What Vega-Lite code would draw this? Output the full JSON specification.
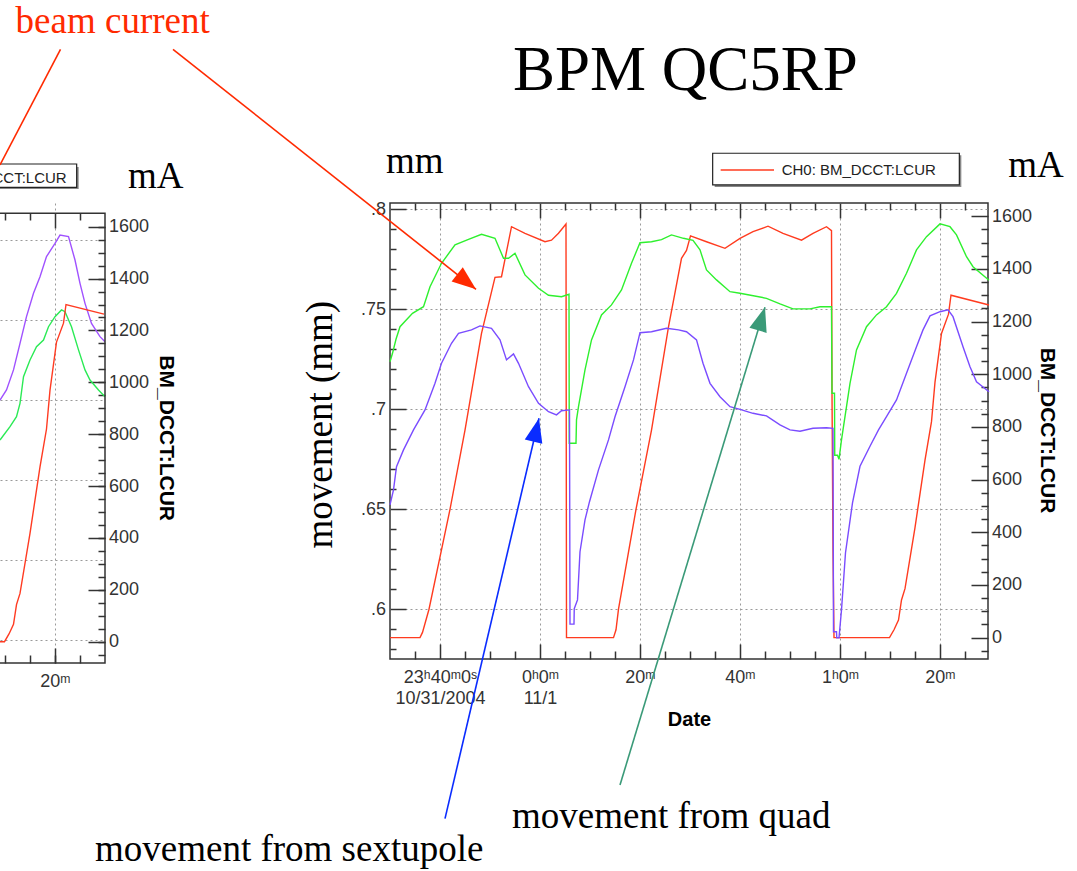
{
  "$schema": "https://vega.github.io/schema/vega-lite/v6.json",
  "autosize": {"type": "none"},
  "padding": {"left": 0, "top": 203, "right": 1077, "bottom": 668},
  "background": "#ffffff",
  "config": {"view": {"stroke": null}},
  "bounds": "flush",
  "spacing": 285,
  "datasets": {
    "current": [
      {"time": "2004-10-31T23:30:00Z", "mA": 0},
      {"time": "2004-10-31T23:36:00Z", "mA": 0},
      {"time": "2004-10-31T23:36:30Z", "mA": 20},
      {"time": "2004-10-31T23:37:48Z", "mA": 108},
      {"time": "2004-10-31T23:42:00Z", "mA": 487},
      {"time": "2004-10-31T23:45:00Z", "mA": 788},
      {"time": "2004-10-31T23:48:18Z", "mA": 1155},
      {"time": "2004-10-31T23:51:00Z", "mA": 1368},
      {"time": "2004-10-31T23:52:18Z", "mA": 1370},
      {"time": "2004-10-31T23:53:18Z", "mA": 1465},
      {"time": "2004-10-31T23:54:18Z", "mA": 1560},
      {"time": "2004-10-31T23:57:00Z", "mA": 1535},
      {"time": "2004-11-01T00:01:00Z", "mA": 1503},
      {"time": "2004-11-01T00:02:18Z", "mA": 1509},
      {"time": "2004-11-01T00:03:42Z", "mA": 1535},
      {"time": "2004-11-01T00:05:12Z", "mA": 1570},
      {"time": "2004-11-01T00:05:18Z", "mA": 0},
      {"time": "2004-11-01T00:14:42Z", "mA": 0},
      {"time": "2004-11-01T00:15:12Z", "mA": 30},
      {"time": "2004-11-01T00:15:42Z", "mA": 108},
      {"time": "2004-11-01T00:19:12Z", "mA": 487},
      {"time": "2004-11-01T00:22:18Z", "mA": 788},
      {"time": "2004-11-01T00:25:42Z", "mA": 1180},
      {"time": "2004-11-01T00:28:18Z", "mA": 1440},
      {"time": "2004-11-01T00:29:18Z", "mA": 1470},
      {"time": "2004-11-01T00:30:06Z", "mA": 1525},
      {"time": "2004-11-01T00:33:18Z", "mA": 1503},
      {"time": "2004-11-01T00:37:00Z", "mA": 1478},
      {"time": "2004-11-01T00:40:00Z", "mA": 1516},
      {"time": "2004-11-01T00:42:36Z", "mA": 1541},
      {"time": "2004-11-01T00:45:36Z", "mA": 1562},
      {"time": "2004-11-01T00:48:36Z", "mA": 1535},
      {"time": "2004-11-01T00:52:18Z", "mA": 1509},
      {"time": "2004-11-01T00:54:36Z", "mA": 1535},
      {"time": "2004-11-01T00:57:18Z", "mA": 1560},
      {"time": "2004-11-01T00:58:18Z", "mA": 1545},
      {"time": "2004-11-01T00:58:24Z", "mA": 930},
      {"time": "2004-11-01T00:58:36Z", "mA": 330},
      {"time": "2004-11-01T00:58:48Z", "mA": 0},
      {"time": "2004-11-01T01:09:54Z", "mA": 0},
      {"time": "2004-11-01T01:10:48Z", "mA": 30},
      {"time": "2004-11-01T01:11:42Z", "mA": 67},
      {"time": "2004-11-01T01:12:18Z", "mA": 143},
      {"time": "2004-11-01T01:13:00Z", "mA": 186},
      {"time": "2004-11-01T01:15:00Z", "mA": 418},
      {"time": "2004-11-01T01:17:00Z", "mA": 674},
      {"time": "2004-11-01T01:18:18Z", "mA": 820},
      {"time": "2004-11-01T01:19:00Z", "mA": 970},
      {"time": "2004-11-01T01:20:18Z", "mA": 1155},
      {"time": "2004-11-01T01:21:42Z", "mA": 1228},
      {"time": "2004-11-01T01:22:12Z", "mA": 1300},
      {"time": "2004-11-01T01:29:48Z", "mA": 1263}
    ],
    "movement": [
      {"time": "2004-10-31T23:30:00Z", "source": "quad", "mm": 0.7238},
      {"time": "2004-10-31T23:30:30Z", "source": "quad", "mm": 0.728},
      {"time": "2004-10-31T23:31:12Z", "source": "quad", "mm": 0.735},
      {"time": "2004-10-31T23:32:00Z", "source": "quad", "mm": 0.7413},
      {"time": "2004-10-31T23:34:30Z", "source": "quad", "mm": 0.748},
      {"time": "2004-10-31T23:36:42Z", "source": "quad", "mm": 0.7513},
      {"time": "2004-10-31T23:38:00Z", "source": "quad", "mm": 0.7613},
      {"time": "2004-10-31T23:40:18Z", "source": "quad", "mm": 0.773},
      {"time": "2004-10-31T23:43:00Z", "source": "quad", "mm": 0.7822},
      {"time": "2004-10-31T23:45:42Z", "source": "quad", "mm": 0.785},
      {"time": "2004-10-31T23:48:18Z", "source": "quad", "mm": 0.7875},
      {"time": "2004-10-31T23:51:00Z", "source": "quad", "mm": 0.7855},
      {"time": "2004-10-31T23:52:42Z", "source": "quad", "mm": 0.7755},
      {"time": "2004-10-31T23:53:42Z", "source": "quad", "mm": 0.7755},
      {"time": "2004-10-31T23:55:00Z", "source": "quad", "mm": 0.778},
      {"time": "2004-10-31T23:57:00Z", "source": "quad", "mm": 0.7672},
      {"time": "2004-10-31T23:59:42Z", "source": "quad", "mm": 0.7605},
      {"time": "2004-11-01T00:01:42Z", "source": "quad", "mm": 0.757},
      {"time": "2004-11-01T00:04:18Z", "source": "quad", "mm": 0.7563},
      {"time": "2004-11-01T00:05:48Z", "source": "quad", "mm": 0.7575},
      {"time": "2004-11-01T00:05:51Z", "source": "quad", "mm": 0.683},
      {"time": "2004-11-01T00:07:12Z", "source": "quad", "mm": 0.683},
      {"time": "2004-11-01T00:07:18Z", "source": "quad", "mm": 0.6947},
      {"time": "2004-11-01T00:07:42Z", "source": "quad", "mm": 0.7013},
      {"time": "2004-11-01T00:09:00Z", "source": "quad", "mm": 0.7197},
      {"time": "2004-11-01T00:10:18Z", "source": "quad", "mm": 0.7347},
      {"time": "2004-11-01T00:12:18Z", "source": "quad", "mm": 0.7472},
      {"time": "2004-11-01T00:14:18Z", "source": "quad", "mm": 0.7522},
      {"time": "2004-11-01T00:16:18Z", "source": "quad", "mm": 0.7597},
      {"time": "2004-11-01T00:18:18Z", "source": "quad", "mm": 0.773},
      {"time": "2004-11-01T00:20:00Z", "source": "quad", "mm": 0.7833},
      {"time": "2004-11-01T00:22:18Z", "source": "quad", "mm": 0.7838},
      {"time": "2004-11-01T00:24:18Z", "source": "quad", "mm": 0.7848},
      {"time": "2004-11-01T00:26:18Z", "source": "quad", "mm": 0.7872},
      {"time": "2004-11-01T00:28:42Z", "source": "quad", "mm": 0.7855},
      {"time": "2004-11-01T00:30:36Z", "source": "quad", "mm": 0.7845},
      {"time": "2004-11-01T00:32:00Z", "source": "quad", "mm": 0.7797},
      {"time": "2004-11-01T00:33:18Z", "source": "quad", "mm": 0.7697},
      {"time": "2004-11-01T00:35:18Z", "source": "quad", "mm": 0.7647},
      {"time": "2004-11-01T00:38:00Z", "source": "quad", "mm": 0.7588},
      {"time": "2004-11-01T00:40:00Z", "source": "quad", "mm": 0.758},
      {"time": "2004-11-01T00:45:18Z", "source": "quad", "mm": 0.7555},
      {"time": "2004-11-01T00:48:00Z", "source": "quad", "mm": 0.7527},
      {"time": "2004-11-01T00:50:36Z", "source": "quad", "mm": 0.7502},
      {"time": "2004-11-01T00:54:00Z", "source": "quad", "mm": 0.7502},
      {"time": "2004-11-01T00:56:00Z", "source": "quad", "mm": 0.7513},
      {"time": "2004-11-01T00:58:18Z", "source": "quad", "mm": 0.7513},
      {"time": "2004-11-01T00:58:24Z", "source": "quad", "mm": 0.708},
      {"time": "2004-11-01T00:58:54Z", "source": "quad", "mm": 0.708},
      {"time": "2004-11-01T00:58:57Z", "source": "quad", "mm": 0.677},
      {"time": "2004-11-01T00:59:30Z", "source": "quad", "mm": 0.677},
      {"time": "2004-11-01T00:59:48Z", "source": "quad", "mm": 0.675},
      {"time": "2004-11-01T01:00:18Z", "source": "quad", "mm": 0.6847},
      {"time": "2004-11-01T01:00:36Z", "source": "quad", "mm": 0.6897},
      {"time": "2004-11-01T01:02:00Z", "source": "quad", "mm": 0.713},
      {"time": "2004-11-01T01:03:18Z", "source": "quad", "mm": 0.7297},
      {"time": "2004-11-01T01:05:18Z", "source": "quad", "mm": 0.7413},
      {"time": "2004-11-01T01:07:18Z", "source": "quad", "mm": 0.7472},
      {"time": "2004-11-01T01:09:18Z", "source": "quad", "mm": 0.7513},
      {"time": "2004-11-01T01:11:18Z", "source": "quad", "mm": 0.758},
      {"time": "2004-11-01T01:13:18Z", "source": "quad", "mm": 0.768},
      {"time": "2004-11-01T01:15:18Z", "source": "quad", "mm": 0.7797},
      {"time": "2004-11-01T01:17:18Z", "source": "quad", "mm": 0.7863},
      {"time": "2004-11-01T01:20:00Z", "source": "quad", "mm": 0.7927},
      {"time": "2004-11-01T01:22:00Z", "source": "quad", "mm": 0.7913},
      {"time": "2004-11-01T01:23:18Z", "source": "quad", "mm": 0.7872},
      {"time": "2004-11-01T01:25:18Z", "source": "quad", "mm": 0.7763},
      {"time": "2004-11-01T01:26:36Z", "source": "quad", "mm": 0.7713},
      {"time": "2004-11-01T01:29:48Z", "source": "quad", "mm": 0.7645},
      {"time": "2004-10-31T23:30:00Z", "source": "sextupole", "mm": 0.6522},
      {"time": "2004-10-31T23:30:42Z", "source": "sextupole", "mm": 0.6597},
      {"time": "2004-10-31T23:31:18Z", "source": "sextupole", "mm": 0.6713},
      {"time": "2004-10-31T23:32:42Z", "source": "sextupole", "mm": 0.6797},
      {"time": "2004-10-31T23:34:42Z", "source": "sextupole", "mm": 0.6897},
      {"time": "2004-10-31T23:37:00Z", "source": "sextupole", "mm": 0.6997},
      {"time": "2004-10-31T23:39:00Z", "source": "sextupole", "mm": 0.713},
      {"time": "2004-10-31T23:40:18Z", "source": "sextupole", "mm": 0.723},
      {"time": "2004-10-31T23:42:18Z", "source": "sextupole", "mm": 0.733},
      {"time": "2004-10-31T23:43:42Z", "source": "sextupole", "mm": 0.738},
      {"time": "2004-10-31T23:46:18Z", "source": "sextupole", "mm": 0.7397},
      {"time": "2004-10-31T23:48:00Z", "source": "sextupole", "mm": 0.7417},
      {"time": "2004-10-31T23:50:18Z", "source": "sextupole", "mm": 0.7405},
      {"time": "2004-10-31T23:52:00Z", "source": "sextupole", "mm": 0.7347},
      {"time": "2004-10-31T23:53:18Z", "source": "sextupole", "mm": 0.7247},
      {"time": "2004-10-31T23:54:42Z", "source": "sextupole", "mm": 0.7277},
      {"time": "2004-10-31T23:55:42Z", "source": "sextupole", "mm": 0.723},
      {"time": "2004-10-31T23:57:42Z", "source": "sextupole", "mm": 0.7113},
      {"time": "2004-10-31T23:59:42Z", "source": "sextupole", "mm": 0.703},
      {"time": "2004-11-01T00:01:42Z", "source": "sextupole", "mm": 0.6988},
      {"time": "2004-11-01T00:03:18Z", "source": "sextupole", "mm": 0.6972},
      {"time": "2004-11-01T00:04:18Z", "source": "sextupole", "mm": 0.6993},
      {"time": "2004-11-01T00:05:54Z", "source": "sextupole", "mm": 0.6997},
      {"time": "2004-11-01T00:06:00Z", "source": "sextupole", "mm": 0.5926},
      {"time": "2004-11-01T00:06:48Z", "source": "sextupole", "mm": 0.5926},
      {"time": "2004-11-01T00:06:51Z", "source": "sextupole", "mm": 0.6003},
      {"time": "2004-11-01T00:07:30Z", "source": "sextupole", "mm": 0.6047},
      {"time": "2004-11-01T00:08:00Z", "source": "sextupole", "mm": 0.6288},
      {"time": "2004-11-01T00:09:00Z", "source": "sextupole", "mm": 0.6447},
      {"time": "2004-11-01T00:09:54Z", "source": "sextupole", "mm": 0.6538},
      {"time": "2004-11-01T00:11:42Z", "source": "sextupole", "mm": 0.6697},
      {"time": "2004-11-01T00:13:42Z", "source": "sextupole", "mm": 0.6847},
      {"time": "2004-11-01T00:15:00Z", "source": "sextupole", "mm": 0.6963},
      {"time": "2004-11-01T00:17:00Z", "source": "sextupole", "mm": 0.7113},
      {"time": "2004-11-01T00:18:42Z", "source": "sextupole", "mm": 0.7247},
      {"time": "2004-11-01T00:20:00Z", "source": "sextupole", "mm": 0.7383},
      {"time": "2004-11-01T00:22:18Z", "source": "sextupole", "mm": 0.7388},
      {"time": "2004-11-01T00:25:18Z", "source": "sextupole", "mm": 0.7405},
      {"time": "2004-11-01T00:27:42Z", "source": "sextupole", "mm": 0.7397},
      {"time": "2004-11-01T00:29:18Z", "source": "sextupole", "mm": 0.7388},
      {"time": "2004-11-01T00:31:18Z", "source": "sextupole", "mm": 0.7347},
      {"time": "2004-11-01T00:32:36Z", "source": "sextupole", "mm": 0.723},
      {"time": "2004-11-01T00:34:00Z", "source": "sextupole", "mm": 0.713},
      {"time": "2004-11-01T00:36:00Z", "source": "sextupole", "mm": 0.7063},
      {"time": "2004-11-01T00:38:00Z", "source": "sextupole", "mm": 0.7013},
      {"time": "2004-11-01T00:40:00Z", "source": "sextupole", "mm": 0.7},
      {"time": "2004-11-01T00:42:36Z", "source": "sextupole", "mm": 0.698},
      {"time": "2004-11-01T00:45:18Z", "source": "sextupole", "mm": 0.6967},
      {"time": "2004-11-01T00:48:00Z", "source": "sextupole", "mm": 0.6922},
      {"time": "2004-11-01T00:50:00Z", "source": "sextupole", "mm": 0.6897},
      {"time": "2004-11-01T00:52:00Z", "source": "sextupole", "mm": 0.689},
      {"time": "2004-11-01T00:54:36Z", "source": "sextupole", "mm": 0.6905},
      {"time": "2004-11-01T00:57:18Z", "source": "sextupole", "mm": 0.6908},
      {"time": "2004-11-01T00:58:36Z", "source": "sextupole", "mm": 0.6905},
      {"time": "2004-11-01T00:58:42Z", "source": "sextupole", "mm": 0.5888},
      {"time": "2004-11-01T00:59:18Z", "source": "sextupole", "mm": 0.5888},
      {"time": "2004-11-01T00:59:21Z", "source": "sextupole", "mm": 0.5858},
      {"time": "2004-11-01T00:59:48Z", "source": "sextupole", "mm": 0.5858},
      {"time": "2004-11-01T01:00:18Z", "source": "sextupole", "mm": 0.5997},
      {"time": "2004-11-01T01:01:06Z", "source": "sextupole", "mm": 0.6283},
      {"time": "2004-11-01T01:02:30Z", "source": "sextupole", "mm": 0.6532},
      {"time": "2004-11-01T01:04:00Z", "source": "sextupole", "mm": 0.6715},
      {"time": "2004-11-01T01:06:00Z", "source": "sextupole", "mm": 0.6815},
      {"time": "2004-11-01T01:07:42Z", "source": "sextupole", "mm": 0.6897},
      {"time": "2004-11-01T01:09:18Z", "source": "sextupole", "mm": 0.6963},
      {"time": "2004-11-01T01:11:18Z", "source": "sextupole", "mm": 0.7047},
      {"time": "2004-11-01T01:13:18Z", "source": "sextupole", "mm": 0.718},
      {"time": "2004-11-01T01:15:18Z", "source": "sextupole", "mm": 0.7313},
      {"time": "2004-11-01T01:16:36Z", "source": "sextupole", "mm": 0.7397},
      {"time": "2004-11-01T01:18:00Z", "source": "sextupole", "mm": 0.7467},
      {"time": "2004-11-01T01:20:00Z", "source": "sextupole", "mm": 0.7488},
      {"time": "2004-11-01T01:21:36Z", "source": "sextupole", "mm": 0.7497},
      {"time": "2004-11-01T01:22:36Z", "source": "sextupole", "mm": 0.7463},
      {"time": "2004-11-01T01:24:36Z", "source": "sextupole", "mm": 0.7313},
      {"time": "2004-11-01T01:26:00Z", "source": "sextupole", "mm": 0.7213},
      {"time": "2004-11-01T01:27:18Z", "source": "sextupole", "mm": 0.7138},
      {"time": "2004-11-01T01:29:48Z", "source": "sextupole", "mm": 0.7088}
    ],
    "movementLeft": [
      {"time": "2004-11-01T01:09:00Z", "source": "quad", "mm": 0.725},
      {"time": "2004-11-01T01:11:00Z", "source": "quad", "mm": 0.7333},
      {"time": "2004-11-01T01:12:18Z", "source": "quad", "mm": 0.7396},
      {"time": "2004-11-01T01:13:00Z", "source": "quad", "mm": 0.7479},
      {"time": "2004-11-01T01:13:42Z", "source": "quad", "mm": 0.7646},
      {"time": "2004-11-01T01:15:00Z", "source": "quad", "mm": 0.775},
      {"time": "2004-11-01T01:16:18Z", "source": "quad", "mm": 0.7833},
      {"time": "2004-11-01T01:17:42Z", "source": "quad", "mm": 0.7875},
      {"time": "2004-11-01T01:18:42Z", "source": "quad", "mm": 0.7958},
      {"time": "2004-11-01T01:20:00Z", "source": "quad", "mm": 0.8021},
      {"time": "2004-11-01T01:21:18Z", "source": "quad", "mm": 0.8063},
      {"time": "2004-11-01T01:22:00Z", "source": "quad", "mm": 0.8052},
      {"time": "2004-11-01T01:23:18Z", "source": "quad", "mm": 0.7958},
      {"time": "2004-11-01T01:24:42Z", "source": "quad", "mm": 0.7813},
      {"time": "2004-11-01T01:26:00Z", "source": "quad", "mm": 0.7688},
      {"time": "2004-11-01T01:27:00Z", "source": "quad", "mm": 0.7625},
      {"time": "2004-11-01T01:28:42Z", "source": "quad", "mm": 0.7563},
      {"time": "2004-11-01T01:30:00Z", "source": "quad", "mm": 0.7521},
      {"time": "2004-11-01T01:09:00Z", "source": "sextupole", "mm": 0.75},
      {"time": "2004-11-01T01:10:18Z", "source": "sextupole", "mm": 0.7563},
      {"time": "2004-11-01T01:11:42Z", "source": "sextupole", "mm": 0.7688},
      {"time": "2004-11-01T01:13:00Z", "source": "sextupole", "mm": 0.7854},
      {"time": "2004-11-01T01:14:18Z", "source": "sextupole", "mm": 0.8021},
      {"time": "2004-11-01T01:15:42Z", "source": "sextupole", "mm": 0.8167},
      {"time": "2004-11-01T01:17:00Z", "source": "sextupole", "mm": 0.8271},
      {"time": "2004-11-01T01:18:18Z", "source": "sextupole", "mm": 0.8396},
      {"time": "2004-11-01T01:20:00Z", "source": "sextupole", "mm": 0.8479},
      {"time": "2004-11-01T01:21:00Z", "source": "sextupole", "mm": 0.8531},
      {"time": "2004-11-01T01:22:42Z", "source": "sextupole", "mm": 0.8521},
      {"time": "2004-11-01T01:24:00Z", "source": "sextupole", "mm": 0.8375},
      {"time": "2004-11-01T01:25:00Z", "source": "sextupole", "mm": 0.8229},
      {"time": "2004-11-01T01:26:00Z", "source": "sextupole", "mm": 0.8104},
      {"time": "2004-11-01T01:27:18Z", "source": "sextupole", "mm": 0.7979},
      {"time": "2004-11-01T01:29:00Z", "source": "sextupole", "mm": 0.7896},
      {"time": "2004-11-01T01:30:00Z", "source": "sextupole", "mm": 0.7864}
    ]
  },
  "hconcat": [
    {
      "width": 105,
      "height": 460,
      "resolve": {"scale": {"x": "independent", "y": "independent", "color": "independent"}},
      "layer": [
        {
          "data": {"name": "movementLeft"},
          "mark": {"type": "line", "strokeWidth": 1.4, "clip": true},
          "encoding": {
            "x": {"field": "time", "type": "temporal",
              "scale": {"type": "utc", "domain": [{"year": 2004, "month": 11, "date": 1, "hours": 1, "minutes": 9, "utc": true}, {"year": 2004, "month": 11, "date": 1, "hours": 1, "minutes": 30, "utc": true}], "nice": false},
              "axis": {"orient": "bottom", "values": [{"year": 2004, "month": 11, "date": 1, "hours": 1, "minutes": 20, "utc": true}], "tickSize": -15, "tickWidth": 1.5, "tickColor": "#333333", "labels": false, "domain": false, "grid": false, "title": null}},
            "y": {"field": "mm", "type": "quantitative",
              "scale": {"domain": [0.585625, 0.873125], "nice": false, "zero": false},
              "axis": {"orient": "left", "values": [0.6, 0.65, 0.7, 0.75, 0.8, 0.85], "labels": false, "ticks": false, "domain": false, "grid": true, "gridColor": "#9a9a9a", "gridDash": [2, 3], "title": null}},
            "color": {"field": "source", "type": "nominal", "scale": {"domain": ["quad", "sextupole"], "range": ["#2bea55", "#a052ff"]}, "legend": null}
          }
        },
        {
          "data": {"name": "current"},
          "mark": {"type": "line", "color": "#ff3b22", "strokeWidth": 1.4, "clip": true},
          "encoding": {
            "x": {"field": "time", "type": "temporal",
              "scale": {"type": "utc", "domain": [{"year": 2004, "month": 11, "date": 1, "hours": 1, "minutes": 9, "utc": true}, {"year": 2004, "month": 11, "date": 1, "hours": 1, "minutes": 30, "utc": true}], "nice": false},
              "axis": {"orient": "bottom", "values": [{"year": 2004, "month": 11, "date": 1, "hours": 1, "minutes": 20, "utc": true}], "ticks": false, "domain": false, "grid": true, "gridColor": "#9a9a9a", "gridDash": [2, 3], "labelExpr": "utcminutes(datum.value) + 'ᵐ'", "labelFont": "Liberation Sans, Arial, sans-serif", "labelFontSize": 18, "labelColor": "#333333", "labelPadding": 23.7, "labelBaseline": "alphabetic", "labelFlush": false, "labelOverlap": false, "labelBound": false, "title": null}},
            "y": {"field": "mA", "type": "quantitative",
              "scale": {"domain": [-82.1, 1691.4], "nice": false, "zero": false},
              "axis": {"orient": "right", "values": [0, 200, 400, 600, 800, 1000, 1200, 1400, 1600], "format": "d", "ticks": false, "domain": false, "grid": false, "labelFont": "Liberation Sans, Arial, sans-serif", "labelFontSize": 18, "labelColor": "#333333", "labelPadding": 3.5, "labelAlign": "left", "labelBaseline": "middle", "labelOverlap": false, "labelBound": false, "labelFlush": false, "title": "BM_DCCT:LCUR", "titleFont": "Liberation Sans, Arial, sans-serif", "titleFontSize": 21, "titleFontWeight": "bold", "titleColor": "#000000", "titleAngle": 90, "titleX": 60, "titleY": 234.7, "titleAlign": "center", "titleBaseline": "middle"}}
          }
        },
        {
          "data": {"values": [{"time": "2004-11-01T01:08:00Z", "time2": "2004-11-01T01:30:00Z", "mA": 1651.7, "mA2": -82.1}]},
          "mark": {"type": "rect", "filled": false, "color": "#333333", "strokeWidth": 1.5},
          "encoding": {
            "x": {"field": "time", "type": "temporal",
              "scale": {"type": "utc", "domain": [{"year": 2004, "month": 11, "date": 1, "hours": 1, "minutes": 9, "utc": true}, {"year": 2004, "month": 11, "date": 1, "hours": 1, "minutes": 30, "utc": true}], "nice": false},
              "axis": {"orient": "bottom", "values": [{"year": 2004, "month": 11, "date": 1, "hours": 1, "minutes": 10, "utc": true}, {"year": 2004, "month": 11, "date": 1, "hours": 1, "minutes": 15, "utc": true}, {"year": 2004, "month": 11, "date": 1, "hours": 1, "minutes": 20, "utc": true}, {"year": 2004, "month": 11, "date": 1, "hours": 1, "minutes": 25, "utc": true}], "tickSize": -8, "tickWidth": 1.5, "tickColor": "#333333", "labels": false, "domain": false, "grid": false, "title": null}},
            "x2": {"field": "time2"},
            "y": {"field": "mA", "type": "quantitative",
              "scale": {"domain": [-82.1, 1691.4], "nice": false, "zero": false},
              "axis": {"orient": "right", "values": [0, 200, 400, 600, 800, 1000, 1200, 1400, 1600], "tickSize": -17, "tickWidth": 1.5, "tickColor": "#333333", "labels": false, "domain": false, "grid": false, "title": null}},
            "y2": {"field": "mA2"}
          }
        },
        {
          "data": {"values": [{"time": "2004-11-01T00:35:24Z", "time2": "2004-11-01T01:24:44Z", "mA": 1830.2, "mA2": 1745.4}]},
          "mark": {"type": "rect", "color": "#888888"},
          "encoding": {
            "x": {"field": "time", "type": "temporal",
              "scale": {"type": "utc", "domain": [{"year": 2004, "month": 11, "date": 1, "hours": 1, "minutes": 9, "utc": true}, {"year": 2004, "month": 11, "date": 1, "hours": 1, "minutes": 30, "utc": true}], "nice": false},
              "axis": {"orient": "top", "offset": -10, "values": [{"year": 2004, "month": 11, "date": 1, "hours": 1, "minutes": 20, "utc": true}], "tickSize": -15, "tickWidth": 1.5, "tickColor": "#333333", "labels": false, "domain": false, "grid": false, "title": null}},
            "x2": {"field": "time2"},
            "y": {"field": "mA", "type": "quantitative",
              "scale": {"domain": [-82.1, 1691.4], "nice": false, "zero": false},
              "axis": {"orient": "right", "values": [-50, 0, 50, 100, 150, 200, 250, 300, 350, 400, 450, 500, 550, 600, 650, 700, 750, 800, 850, 900, 950, 1000, 1050, 1100, 1150, 1200, 1250, 1300, 1350, 1400, 1450, 1500, 1550, 1600], "tickSize": -7, "tickWidth": 1.5, "tickColor": "#333333", "labels": false, "domain": false, "grid": false, "title": null}},
            "y2": {"field": "mA2"}
          }
        },
        {
          "data": {"values": [{"time": "2004-11-01T00:35:00Z", "time2": "2004-11-01T01:24:20Z", "mA": 1841.7, "mA2": 1752}]},
          "mark": {"type": "rect", "fill": "#ffffff", "stroke": "#222222", "strokeWidth": 1.2},
          "encoding": {
            "x": {"field": "time", "type": "temporal",
              "scale": {"type": "utc", "domain": [{"year": 2004, "month": 11, "date": 1, "hours": 1, "minutes": 9, "utc": true}, {"year": 2004, "month": 11, "date": 1, "hours": 1, "minutes": 30, "utc": true}], "nice": false},
              "axis": {"orient": "top", "offset": -10, "values": [{"year": 2004, "month": 11, "date": 1, "hours": 1, "minutes": 10, "utc": true}, {"year": 2004, "month": 11, "date": 1, "hours": 1, "minutes": 15, "utc": true}, {"year": 2004, "month": 11, "date": 1, "hours": 1, "minutes": 25, "utc": true}], "tickSize": -7, "tickWidth": 1.5, "tickColor": "#333333", "labels": false, "domain": false, "grid": false, "title": null}},
            "x2": {"field": "time2"},
            "y": {"field": "mA", "type": "quantitative", "scale": {"domain": [-82.1, 1691.4], "nice": false, "zero": false}, "axis": null},
            "y2": {"field": "mA2"}
          }
        },
        {
          "data": {"values": [{"time": "2004-11-01T01:22:20Z", "mA": 1767.4, "label": "CH0: BM_DCCT:LCUR"}]},
          "mark": {"type": "text", "font": "Liberation Sans, Arial, sans-serif", "fontSize": 15, "color": "#222222", "align": "right", "baseline": "alphabetic"},
          "encoding": {
            "x": {"field": "time", "type": "temporal", "scale": {"type": "utc", "domain": [{"year": 2004, "month": 11, "date": 1, "hours": 1, "minutes": 9, "utc": true}, {"year": 2004, "month": 11, "date": 1, "hours": 1, "minutes": 30, "utc": true}], "nice": false}, "axis": null},
            "y": {"field": "mA", "type": "quantitative", "scale": {"domain": [-82.1, 1691.4], "nice": false, "zero": false}, "axis": null},
            "text": {"field": "label", "type": "nominal"}
          }
        },
        {
          "data": {"values": [{"time": "2004-11-01T01:34:36Z", "mA": 1749.2, "label": "mA"}]},
          "mark": {"type": "text", "font": "Liberation Serif, Times New Roman, serif", "fontSize": 37, "color": "#000000", "align": "left", "baseline": "alphabetic"},
          "encoding": {
            "x": {"field": "time", "type": "temporal", "scale": {"type": "utc", "domain": [{"year": 2004, "month": 11, "date": 1, "hours": 1, "minutes": 9, "utc": true}, {"year": 2004, "month": 11, "date": 1, "hours": 1, "minutes": 30, "utc": true}], "nice": false}, "axis": null},
            "y": {"field": "mA", "type": "quantitative", "scale": {"domain": [-82.1, 1691.4], "nice": false, "zero": false}, "axis": null},
            "text": {"field": "label", "type": "nominal"}
          }
        }
      ]
    },
    {
      "width": 598,
      "height": 456,
      "view": {"stroke": "#333333", "strokeWidth": 1.5},
      "resolve": {"scale": {"x": "independent", "y": "independent", "color": "independent"}},
      "layer": [
        {
          "data": {"name": "current"},
          "mark": {"type": "line", "color": "#ff3b1f", "strokeWidth": 1.4},
          "encoding": {
            "x": {"field": "time", "type": "temporal",
              "scale": {"type": "utc", "domain": [{"year": 2004, "month": 10, "date": 31, "hours": 23, "minutes": 30, "utc": true}, {"year": 2004, "month": 11, "date": 1, "hours": 1, "minutes": 29, "seconds": 36, "utc": true}], "nice": false},
              "axis": {"orient": "bottom", "values": [{"year": 2004, "month": 10, "date": 31, "hours": 23, "minutes": 40, "utc": true}, {"year": 2004, "month": 11, "date": 1, "hours": 0, "minutes": 0, "utc": true}, {"year": 2004, "month": 11, "date": 1, "hours": 0, "minutes": 20, "utc": true}, {"year": 2004, "month": 11, "date": 1, "hours": 0, "minutes": 40, "utc": true}, {"year": 2004, "month": 11, "date": 1, "hours": 1, "minutes": 0, "utc": true}, {"year": 2004, "month": 11, "date": 1, "hours": 1, "minutes": 20, "utc": true}],
                "ticks": false, "domain": false, "grid": true, "gridColor": "#9a9a9a", "gridDash": [2, 3], "gridWidth": 1,
                "labelExpr": "utchours(datum.value) == 23 ? [utchours(datum.value) + 'ʰ' + utcminutes(datum.value) + 'ᵐ0ˢ', (utcmonth(datum.value) + 1) + '/' + utcdate(datum.value) + '/' + utcyear(datum.value)] : utcminutes(datum.value) == 0 ? (utchours(datum.value) == 0 ? ['0ʰ0ᵐ', (utcmonth(datum.value) + 1) + '/' + utcdate(datum.value)] : utchours(datum.value) + 'ʰ0ᵐ') : utcminutes(datum.value) + 'ᵐ'",
                "labelFont": "Liberation Sans, Arial, sans-serif", "labelFontSize": 18, "labelColor": "#333333", "labelPadding": 23.7, "labelBaseline": "alphabetic", "labelLineHeight": 20.6, "labelAlign": "center", "labelOverlap": false, "labelFlush": false, "labelBound": false,
                "title": "Date", "titleFont": "Liberation Sans, Arial, sans-serif", "titleFontSize": 20, "titleFontWeight": "bold", "titleColor": "#000000", "titleX": 299, "titleY": 66, "titleAlign": "center", "titleBaseline": "alphabetic", "titleAngle": 0}},
            "y": {"field": "mA", "type": "quantitative",
              "scale": {"domain": [-81, 1650], "nice": false, "zero": false},
              "axis": {"orient": "right", "values": [0, 200, 400, 600, 800, 1000, 1200, 1400, 1600], "format": "d", "ticks": false, "domain": false, "grid": false, "labelFont": "Liberation Sans, Arial, sans-serif", "labelFontSize": 18, "labelColor": "#333333", "labelPadding": 3.5, "labelAlign": "left", "labelBaseline": "middle", "labelOverlap": false, "labelBound": false, "labelFlush": false, "title": "BM_DCCT:LCUR", "titleFont": "Liberation Sans, Arial, sans-serif", "titleFontSize": 21, "titleFontWeight": "bold", "titleColor": "#000000", "titleAngle": 90, "titleX": 58.7, "titleY": 227, "titleAlign": "center", "titleBaseline": "middle"}}
          }
        },
        {
          "data": {"name": "movement"},
          "mark": {"type": "line", "strokeWidth": 1.4},
          "encoding": {
            "x": {"field": "time", "type": "temporal",
              "scale": {"type": "utc", "domain": [{"year": 2004, "month": 10, "date": 31, "hours": 23, "minutes": 30, "utc": true}, {"year": 2004, "month": 11, "date": 1, "hours": 1, "minutes": 29, "seconds": 36, "utc": true}], "nice": false},
              "axis": {"orient": "bottom", "values": [{"year": 2004, "month": 10, "date": 31, "hours": 23, "minutes": 40, "utc": true}, {"year": 2004, "month": 11, "date": 1, "hours": 0, "minutes": 0, "utc": true}, {"year": 2004, "month": 11, "date": 1, "hours": 0, "minutes": 20, "utc": true}, {"year": 2004, "month": 11, "date": 1, "hours": 0, "minutes": 40, "utc": true}, {"year": 2004, "month": 11, "date": 1, "hours": 1, "minutes": 0, "utc": true}, {"year": 2004, "month": 11, "date": 1, "hours": 1, "minutes": 20, "utc": true}], "tickSize": -15, "tickWidth": 1.5, "tickColor": "#333333", "labels": false, "domain": false, "grid": false, "title": null}},
            "y": {"field": "mm", "type": "quantitative",
              "scale": {"domain": [0.57515, 0.80315], "nice": false, "zero": false},
              "axis": {"orient": "left", "values": [0.6, 0.65, 0.7, 0.75, 0.8], "ticks": false, "domain": false, "grid": true, "gridColor": "#9a9a9a", "gridDash": [2, 3], "gridWidth": 1, "labelExpr": "replace(format(datum.value, '.2~f'), '0.', '.')", "labelFont": "Liberation Sans, Arial, sans-serif", "labelFontSize": 18, "labelColor": "#333333", "labelPadding": 4.5, "labelOverlap": false, "labelBound": false, "labelFlush": false, "title": "movement (mm)", "titleFont": "Liberation Serif, Times New Roman, serif", "titleFontSize": 37, "titleFontWeight": "normal", "titleColor": "#000000", "titleAngle": -90, "titleX": -69.5, "titleY": 221.2, "titleAlign": "center", "titleBaseline": "middle"}},
            "color": {"field": "source", "type": "nominal", "scale": {"domain": ["quad", "sextupole"], "range": ["#2ef02e", "#7a4cff"]}, "legend": null}
          }
        },
        {
          "data": {"values": [
            {"arrow": "beam current", "time": "2004-10-31T22:46:36Z", "mm": 0.88, "time2": "2004-10-31T23:47:12Z", "mm2": 0.76},
            {"arrow": "beam current", "time": "2004-10-31T22:24:06Z", "mm": 0.88, "time2": "2004-10-31T22:12:00Z", "mm2": 0.82215},
            {"arrow": "sextupole", "time": "2004-10-31T23:41:00Z", "mm": 0.49535, "time2": "2004-10-31T23:59:48Z", "mm2": 0.6955},
            {"arrow": "quad", "time": "2004-11-01T00:16:00Z", "mm": 0.51215, "time2": "2004-11-01T00:45:00Z", "mm2": 0.751}
          ]},
          "mark": {"type": "rule", "strokeWidth": 1.6},
          "encoding": {
            "x": {"field": "time", "type": "temporal",
              "scale": {"type": "utc", "domain": [{"year": 2004, "month": 10, "date": 31, "hours": 23, "minutes": 30, "utc": true}, {"year": 2004, "month": 11, "date": 1, "hours": 1, "minutes": 29, "seconds": 36, "utc": true}], "nice": false},
              "axis": {"orient": "bottom", "values": [{"year": 2004, "month": 10, "date": 31, "hours": 23, "minutes": 35, "utc": true}, {"year": 2004, "month": 10, "date": 31, "hours": 23, "minutes": 45, "utc": true}, {"year": 2004, "month": 10, "date": 31, "hours": 23, "minutes": 50, "utc": true}, {"year": 2004, "month": 10, "date": 31, "hours": 23, "minutes": 55, "utc": true}, {"year": 2004, "month": 11, "date": 1, "hours": 0, "minutes": 5, "utc": true}, {"year": 2004, "month": 11, "date": 1, "hours": 0, "minutes": 10, "utc": true}, {"year": 2004, "month": 11, "date": 1, "hours": 0, "minutes": 15, "utc": true}, {"year": 2004, "month": 11, "date": 1, "hours": 0, "minutes": 25, "utc": true}, {"year": 2004, "month": 11, "date": 1, "hours": 0, "minutes": 30, "utc": true}, {"year": 2004, "month": 11, "date": 1, "hours": 0, "minutes": 35, "utc": true}, {"year": 2004, "month": 11, "date": 1, "hours": 0, "minutes": 45, "utc": true}, {"year": 2004, "month": 11, "date": 1, "hours": 0, "minutes": 50, "utc": true}, {"year": 2004, "month": 11, "date": 1, "hours": 0, "minutes": 55, "utc": true}, {"year": 2004, "month": 11, "date": 1, "hours": 1, "minutes": 5, "utc": true}, {"year": 2004, "month": 11, "date": 1, "hours": 1, "minutes": 10, "utc": true}, {"year": 2004, "month": 11, "date": 1, "hours": 1, "minutes": 15, "utc": true}, {"year": 2004, "month": 11, "date": 1, "hours": 1, "minutes": 25, "utc": true}], "tickSize": -8, "tickWidth": 1.5, "tickColor": "#333333", "labels": false, "domain": false, "grid": false, "title": null}},
            "x2": {"field": "time2"},
            "y": {"field": "mm", "type": "quantitative",
              "scale": {"domain": [0.57515, 0.80315], "nice": false, "zero": false},
              "axis": {"orient": "left", "values": [0.6, 0.65, 0.7, 0.75, 0.8], "tickSize": -16, "tickWidth": 1.5, "tickColor": "#333333", "labels": false, "domain": false, "grid": false, "title": null}},
            "y2": {"field": "mm2"},
            "color": {"field": "arrow", "type": "nominal", "scale": {"domain": ["beam current", "sextupole", "quad"], "range": ["#ff2a00", "#0a2cff", "#3a9a78"]}, "legend": null}
          }
        },
        {
          "data": {"values": [{"arrow": "beam current", "time": "2004-10-31T23:47:12Z", "mm": 0.76}]},
          "mark": {"type": "point", "shape": "M0,0L-0.72,1.92L0.72,1.92Z", "size": 625, "filled": true, "opacity": 1, "color": "#ff2a00", "angle": 128.4},
          "encoding": {
            "x": {"field": "time", "type": "temporal",
              "scale": {"type": "utc", "domain": [{"year": 2004, "month": 10, "date": 31, "hours": 23, "minutes": 30, "utc": true}, {"year": 2004, "month": 11, "date": 1, "hours": 1, "minutes": 29, "seconds": 36, "utc": true}], "nice": false},
              "axis": {"orient": "top", "values": [{"year": 2004, "month": 10, "date": 31, "hours": 23, "minutes": 40, "utc": true}, {"year": 2004, "month": 11, "date": 1, "hours": 0, "minutes": 0, "utc": true}, {"year": 2004, "month": 11, "date": 1, "hours": 0, "minutes": 20, "utc": true}, {"year": 2004, "month": 11, "date": 1, "hours": 0, "minutes": 40, "utc": true}, {"year": 2004, "month": 11, "date": 1, "hours": 1, "minutes": 0, "utc": true}, {"year": 2004, "month": 11, "date": 1, "hours": 1, "minutes": 20, "utc": true}], "tickSize": -15, "tickWidth": 1.5, "tickColor": "#333333", "labels": false, "domain": false, "grid": false, "title": null}},
            "y": {"field": "mm", "type": "quantitative",
              "scale": {"domain": [0.57515, 0.80315], "nice": false, "zero": false},
              "axis": {"orient": "left", "values": [0.58, 0.59, 0.61, 0.62, 0.63, 0.64, 0.66, 0.67, 0.68, 0.69, 0.71, 0.72, 0.73, 0.74, 0.76, 0.77, 0.78, 0.79], "tickSize": -6, "tickWidth": 1.5, "tickColor": "#333333", "labels": false, "domain": false, "grid": false, "title": null}}
          }
        },
        {
          "data": {"values": [{"arrow": "sextupole", "time": "2004-10-31T23:59:48Z", "mm": 0.6955}]},
          "mark": {"type": "point", "shape": "M0,0L-0.72,1.92L0.72,1.92Z", "size": 625, "filled": true, "opacity": 1, "color": "#0a2cff", "angle": 13.2},
          "encoding": {
            "x": {"field": "time", "type": "temporal",
              "scale": {"type": "utc", "domain": [{"year": 2004, "month": 10, "date": 31, "hours": 23, "minutes": 30, "utc": true}, {"year": 2004, "month": 11, "date": 1, "hours": 1, "minutes": 29, "seconds": 36, "utc": true}], "nice": false},
              "axis": {"orient": "top", "values": [{"year": 2004, "month": 10, "date": 31, "hours": 23, "minutes": 35, "utc": true}, {"year": 2004, "month": 10, "date": 31, "hours": 23, "minutes": 45, "utc": true}, {"year": 2004, "month": 10, "date": 31, "hours": 23, "minutes": 50, "utc": true}, {"year": 2004, "month": 10, "date": 31, "hours": 23, "minutes": 55, "utc": true}, {"year": 2004, "month": 11, "date": 1, "hours": 0, "minutes": 5, "utc": true}, {"year": 2004, "month": 11, "date": 1, "hours": 0, "minutes": 10, "utc": true}, {"year": 2004, "month": 11, "date": 1, "hours": 0, "minutes": 15, "utc": true}, {"year": 2004, "month": 11, "date": 1, "hours": 0, "minutes": 25, "utc": true}, {"year": 2004, "month": 11, "date": 1, "hours": 0, "minutes": 30, "utc": true}, {"year": 2004, "month": 11, "date": 1, "hours": 0, "minutes": 35, "utc": true}, {"year": 2004, "month": 11, "date": 1, "hours": 0, "minutes": 45, "utc": true}, {"year": 2004, "month": 11, "date": 1, "hours": 0, "minutes": 50, "utc": true}, {"year": 2004, "month": 11, "date": 1, "hours": 0, "minutes": 55, "utc": true}, {"year": 2004, "month": 11, "date": 1, "hours": 1, "minutes": 5, "utc": true}, {"year": 2004, "month": 11, "date": 1, "hours": 1, "minutes": 10, "utc": true}, {"year": 2004, "month": 11, "date": 1, "hours": 1, "minutes": 15, "utc": true}, {"year": 2004, "month": 11, "date": 1, "hours": 1, "minutes": 25, "utc": true}], "tickSize": -7, "tickWidth": 1.5, "tickColor": "#333333", "labels": false, "domain": false, "grid": false, "title": null}},
            "y": {"field": "mm", "type": "quantitative", "scale": {"domain": [0.57515, 0.80315], "nice": false, "zero": false}, "axis": null}
          }
        },
        {
          "data": {"values": [{"arrow": "quad", "time": "2004-11-01T00:45:00Z", "mm": 0.751}]},
          "mark": {"type": "point", "shape": "M0,0L-0.72,1.92L0.72,1.92Z", "size": 625, "filled": true, "opacity": 1, "color": "#3a9a78", "angle": 16.9},
          "encoding": {
            "x": {"field": "time", "type": "temporal", "scale": {"type": "utc", "domain": [{"year": 2004, "month": 10, "date": 31, "hours": 23, "minutes": 30, "utc": true}, {"year": 2004, "month": 11, "date": 1, "hours": 1, "minutes": 29, "seconds": 36, "utc": true}], "nice": false}, "axis": null},
            "y": {"field": "mm", "type": "quantitative", "scale": {"domain": [0.57515, 0.80315], "nice": false, "zero": false}, "axis": null}
          }
        },
        {
          "data": {"values": [{"time": "2004-10-31T23:54:36Z", "mm": 0.85965, "label": "BPM QC5RP"}]},
          "mark": {"type": "text", "font": "Liberation Serif, Times New Roman, serif", "fontSize": 63, "color": "#000000", "align": "left", "baseline": "alphabetic"},
          "encoding": {
            "x": {"field": "time", "type": "temporal", "scale": {"type": "utc", "domain": [{"year": 2004, "month": 10, "date": 31, "hours": 23, "minutes": 30, "utc": true}, {"year": 2004, "month": 11, "date": 1, "hours": 1, "minutes": 29, "seconds": 36, "utc": true}], "nice": false}, "axis": null},
            "y": {"field": "mm", "type": "quantitative", "scale": {"domain": [0.57515, 0.80315], "nice": false, "zero": false}, "axis": null},
            "text": {"field": "label", "type": "nominal"}
          }
        },
        {
          "data": {"values": [
            {"time": "2004-10-31T23:29:12Z", "mm": 0.81815, "label": "mm"},
            {"time": "2004-11-01T01:33:40Z", "mm": 0.8163, "label": "mA"},
            {"time": "2004-10-31T23:54:24Z", "mm": 0.49065, "label": "movement from quad"},
            {"time": "2004-10-31T22:31:00Z", "mm": 0.47415, "label": "movement from sextupole"}
          ]},
          "mark": {"type": "text", "font": "Liberation Serif, Times New Roman, serif", "fontSize": 37, "color": "#000000", "align": "left", "baseline": "alphabetic"},
          "encoding": {
            "x": {"field": "time", "type": "temporal", "scale": {"type": "utc", "domain": [{"year": 2004, "month": 10, "date": 31, "hours": 23, "minutes": 30, "utc": true}, {"year": 2004, "month": 11, "date": 1, "hours": 1, "minutes": 29, "seconds": 36, "utc": true}], "nice": false}, "axis": null},
            "y": {"field": "mm", "type": "quantitative", "scale": {"domain": [0.57515, 0.80315], "nice": false, "zero": false}, "axis": null},
            "text": {"field": "label", "type": "nominal"}
          }
        },
        {
          "data": {"values": [{"time": "2004-10-31T22:15:07Z", "mm": 0.88815, "label": "beam current"}]},
          "mark": {"type": "text", "font": "Liberation Serif, Times New Roman, serif", "fontSize": 37, "color": "#ff2a00", "align": "left", "baseline": "alphabetic"},
          "encoding": {
            "x": {"field": "time", "type": "temporal", "scale": {"type": "utc", "domain": [{"year": 2004, "month": 10, "date": 31, "hours": 23, "minutes": 30, "utc": true}, {"year": 2004, "month": 11, "date": 1, "hours": 1, "minutes": 29, "seconds": 36, "utc": true}], "nice": false}, "axis": null},
            "y": {"field": "mm", "type": "quantitative", "scale": {"domain": [0.57515, 0.80315], "nice": false, "zero": false}, "axis": null},
            "text": {"field": "label", "type": "nominal"}
          }
        },
        {
          "data": {"values": [{"time": "2004-11-01T00:34:56Z", "time2": "2004-11-01T01:24:16Z", "mA": 1831.2, "mA2": 1710.9}]},
          "mark": {"type": "rect", "color": "#888888"},
          "encoding": {
            "x": {"field": "time", "type": "temporal", "scale": {"type": "utc", "domain": [{"year": 2004, "month": 10, "date": 31, "hours": 23, "minutes": 30, "utc": true}, {"year": 2004, "month": 11, "date": 1, "hours": 1, "minutes": 29, "seconds": 36, "utc": true}], "nice": false}, "axis": null},
            "x2": {"field": "time2"},
            "y": {"field": "mA", "type": "quantitative",
              "scale": {"domain": [-81, 1650], "nice": false, "zero": false},
              "axis": {"orient": "right", "values": [0, 200, 400, 600, 800, 1000, 1200, 1400, 1600], "tickSize": -17, "tickWidth": 1.5, "tickColor": "#333333", "labels": false, "domain": false, "grid": false, "title": null}},
            "y2": {"field": "mA2"}
          }
        },
        {
          "data": {"values": [{"time": "2004-11-01T00:34:32Z", "time2": "2004-11-01T01:23:52Z", "mA": 1838.8, "mA2": 1718.5}]},
          "mark": {"type": "rect", "fill": "#ffffff", "stroke": "#222222", "strokeWidth": 1.2},
          "encoding": {
            "x": {"field": "time", "type": "temporal", "scale": {"type": "utc", "domain": [{"year": 2004, "month": 10, "date": 31, "hours": 23, "minutes": 30, "utc": true}, {"year": 2004, "month": 11, "date": 1, "hours": 1, "minutes": 29, "seconds": 36, "utc": true}], "nice": false}, "axis": null},
            "x2": {"field": "time2"},
            "y": {"field": "mA", "type": "quantitative",
              "scale": {"domain": [-81, 1650], "nice": false, "zero": false},
              "axis": {"orient": "right", "values": [-50, 50, 100, 150, 250, 300, 350, 450, 500, 550, 650, 700, 750, 850, 900, 950, 1050, 1100, 1150, 1250, 1300, 1350, 1450, 1500, 1550], "tickSize": -7, "tickWidth": 1.5, "tickColor": "#333333", "labels": false, "domain": false, "grid": false, "title": null}},
            "y2": {"field": "mA2"}
          }
        },
        {
          "data": {"values": [{"time": "2004-11-01T00:36:08Z", "time2": "2004-11-01T00:46:48Z", "mA": 1775.4}]},
          "mark": {"type": "rule", "color": "#ff3b1f", "strokeWidth": 1.4},
          "encoding": {
            "x": {"field": "time", "type": "temporal", "scale": {"type": "utc", "domain": [{"year": 2004, "month": 10, "date": 31, "hours": 23, "minutes": 30, "utc": true}, {"year": 2004, "month": 11, "date": 1, "hours": 1, "minutes": 29, "seconds": 36, "utc": true}], "nice": false}, "axis": null},
            "x2": {"field": "time2"},
            "y": {"field": "mA", "type": "quantitative", "scale": {"domain": [-81, 1650], "nice": false, "zero": false}, "axis": null}
          }
        },
        {
          "data": {"values": [{"time": "2004-11-01T00:48:20Z", "mA": 1756.4, "label": "CH0: BM_DCCT:LCUR"}]},
          "mark": {"type": "text", "font": "Liberation Sans, Arial, sans-serif", "fontSize": 15, "color": "#222222", "align": "left", "baseline": "alphabetic"},
          "encoding": {
            "x": {"field": "time", "type": "temporal", "scale": {"type": "utc", "domain": [{"year": 2004, "month": 10, "date": 31, "hours": 23, "minutes": 30, "utc": true}, {"year": 2004, "month": 11, "date": 1, "hours": 1, "minutes": 29, "seconds": 36, "utc": true}], "nice": false}, "axis": null},
            "y": {"field": "mA", "type": "quantitative", "scale": {"domain": [-81, 1650], "nice": false, "zero": false}, "axis": null},
            "text": {"field": "label", "type": "nominal"}
          }
        }
      ]
    }
  ]
}
